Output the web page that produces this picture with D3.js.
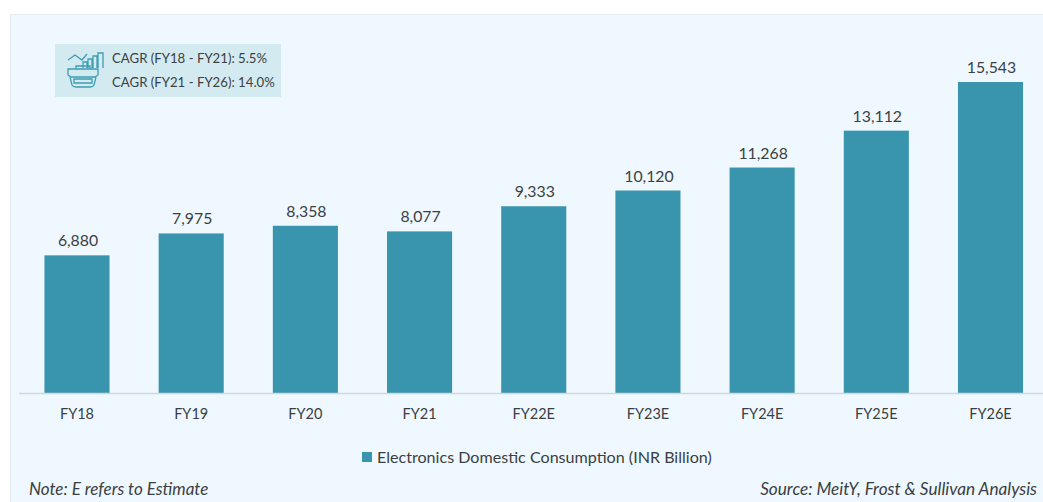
<!DOCTYPE html>
<html><head><meta charset="utf-8">
<script src="https://cdn.jsdelivr.net/npm/d3@7/dist/d3.min.js"></script>
<style>html,body{margin:0;padding:0;background:#fff;overflow:hidden}svg{display:block}text{font-family:Lato,"Open Sans",sans-serif;fill:#3a3f44}</style>
</head><body><svg id="c" width="1043" height="502"></svg>
<script>
const categories=["FY18","FY19","FY20","FY21","FY22E","FY23E","FY24E","FY25E","FY26E"];
const values=[6880,7975,8358,8077,9333,10120,11268,13112,15543];
const seriesName="Electronics Domestic Consumption (INR Billion)";
const cagrLines=["CAGR (FY18 - FY21): 5.5%","CAGR (FY21 - FY26): 14.0%"];
const noteText="Note: E refers to Estimate";
const sourceText="Source: MeitY, Frost & Sullivan Analysis";

const svg=d3.select("#c");
svg.append("rect").attr("x",10).attr("y",14).attr("width",1033).attr("height",488).attr("fill","#eff8fe");
svg.append("path").attr("d","M10.5,502V14.5H1043").attr("fill","none").attr("stroke","#e2ecf1").attr("stroke-width",1);

const x=d3.scaleBand().domain(categories).range([19.9,1047.6]).paddingInner(.43).paddingOuter(.215);
const y=d3.scaleLinear().domain([0,15543]).range([393,82]);
const bw=x.bandwidth();

svg.selectAll("rect.bar").data(values).join("rect").attr("class","bar")
 .attr("x",(d,i)=>x(categories[i])).attr("y",d=>y(d)).attr("width",bw).attr("height",d=>y(0)-y(d)).attr("fill","#3995ae");

const ax=svg.append("g").attr("transform","translate(0,393)").call(d3.axisBottom(x).tickSize(0).tickPadding(16));
ax.select(".domain").attr("stroke","#cfd8dc").attr("stroke-width",1.5).attr("d","M19,0.5H1043");
ax.selectAll("text").attr("font-size",14.5).attr("font-family",'Lato,sans-serif').style("fill","#3a3f44");

svg.selectAll("text.val").data(values).join("text").attr("class","val")
 .attr("x",(d,i)=>x(categories[i])+bw/2+1).attr("y",d=>y(d)-9).attr("text-anchor","middle")
 .attr("font-size",15.8).text(d3.format(","));

// legend
svg.append("rect").attr("x",362).attr("y",452).attr("width",10).attr("height",10).attr("fill","#3995ae");
svg.append("text").attr("x",377).attr("y",463).attr("font-size",16.1).text(seriesName);

// notes
svg.append("text").attr("x",29).attr("y",495).attr("font-size",17).attr("font-style","italic").text(noteText);
svg.append("text").attr("x",1037).attr("y",495).attr("text-anchor","end").attr("font-size",17.2).attr("font-style","italic").text(sourceText);

// CAGR box
svg.append("rect").attr("x",55).attr("y",44).attr("width",226).attr("height",53).attr("fill","#d3eaf0");
svg.selectAll("text.cagr").data(cagrLines).join("text").attr("class","cagr")
 .attr("x",112).attr("y",(d,i)=>63+i*23.5).attr("font-size",13.2).text(d=>d);

const ic=svg.append("g").attr("fill","none").attr("stroke","#3f9db4").attr("stroke-width",1.3);
ic.append("path").attr("d","M68,60 L75,55 L82,60 L87,54");
ic.append("path").attr("d","M83,68V62H87V68M88,68V59H92V68M93,68V56H97V68M98,68V53H103V68");
ic.append("path").attr("d","M68,69H98V75L95,77H71L68,75Z M70,77L72,85Q73,87 76,87H90Q93,87 94,85L96,77");
ic.append("path").attr("d","M74,79H92V83H74Z M76,69V66H90V69");
</script></body></html>
